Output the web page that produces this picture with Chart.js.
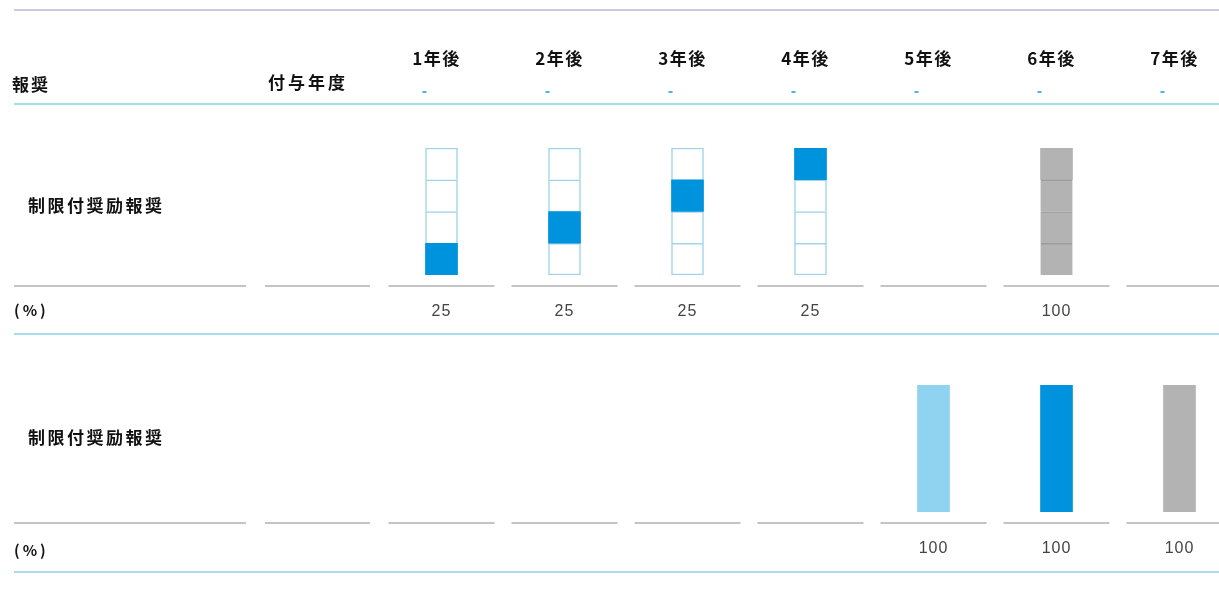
<!DOCTYPE html>
<html lang="ja">
<head>
<meta charset="utf-8">
<script src="https://cdn.jsdelivr.net/npm/chart.js"></script>
<style>
  html, body { margin: 0; padding: 0; background: #fff; overflow: hidden; }
  #wrap { position: relative; width: 1219px; height: 591px; overflow: hidden; }
  canvas { position: absolute; left: 0; }
  #topChart { top: 0; }
  #bottomChart { top: 335px; }
</style>
</head>
<body>
<div id="wrap">
  <canvas id="topChart" width="1241" height="335"></canvas>
  <canvas id="bottomChart" width="1241" height="256"></canvas>
</div>
<script>
const years = ['1年後', '2年後', '3年後', '4年後', '5年後', '6年後', '7年後'];
const headLeft = ['報奨', '付与年度'];
const planLabel = '制限付奨励報奨';
const unitLabel = '(%)';

// upper plan: 25% vests each year for four years, then a 100% award in year 6
const gradedPct = [25, 25, 25, 25, null, null, null];
const cliffPctTop = [null, null, null, null, null, 100, null];
// lower plan: full vesting in years 5 to 7
const cliffPctBottom = [null, null, null, null, 100, 100, 100];

const BLUE = '#0093dd';
const FRAME = '#9fd4e8';
const GREY = '#b3b3b3';
const bottomColors = [null, null, null, null, '#8fd3f1', BLUE, GREY];

const CJK = '"Noto Sans CJK JP", "Noto Sans CJK SC", sans-serif';
const NUM = '"Liberation Sans", Arial, sans-serif';

// tranche boundaries 0,25,50,75,100
const tranches = gradedPct.filter(v => v != null);
const bounds = [0];
tranches.forEach(v => bounds.push(bounds[bounds.length - 1] + v));

// the tranche that vests in each graded year
let run = 0;
const filledTop = gradedPct.map(v => {
  if (v == null) return null;
  const seg = [run, run + v];
  run += v;
  return seg;
});

const isCliff = i => cliffPctTop[i] != null;
const hasFrame = i => gradedPct[i] != null || isCliff(i);

const cellSets = tranches.map((_, k) => ({
  data: years.map((_, i) => hasFrame(i) ? [bounds[k], bounds[k + 1]] : null),
  backgroundColor: years.map((_, i) => isCliff(i) ? GREY : '#ffffff'),
  borderColor: years.map((_, i) => isCliff(i) ? '#9c9c9c' : FRAME),
  borderWidth: ctx => {
    if (isCliff(ctx.dataIndex)) {
      return { top: k < tranches.length - 1 ? 1.5 : 0, bottom: 0, left: 0, right: 0 };
    }
    return { top: 1.5, left: 1.5, right: 1.5, bottom: k === 0 ? 1.5 : 0 };
  }
}));

function hline(ctx, x1, x2, y, color, w) {
  ctx.strokeStyle = color;
  ctx.lineWidth = w;
  ctx.beginPath();
  ctx.moveTo(x1, y);
  ctx.lineTo(x2, y);
  ctx.stroke();
}

function text(ctx, str, x, y, font, color, align, spacing) {
  ctx.font = font;
  ctx.fillStyle = color;
  ctx.textAlign = align;
  ctx.textBaseline = 'middle';
  ctx.letterSpacing = spacing || '0px';
  ctx.fillText(str, x, y);
  ctx.letterSpacing = '0px';
}

// header, row labels, rules and percentage row around the bars
const tableRows = {
  id: 'tableRows',
  afterDraw(chart, args, o) {
    const ctx = chart.ctx;
    const xs = chart.scales.x;
    const right = chart.width;
    ctx.save();
    if (o.header) {
      hline(ctx, 14, right, 10, '#cbcbe0', 2);
      text(ctx, headLeft[0], 12, 85, 'bold 17px ' + CJK, '#111', 'left', '2px');
      text(ctx, headLeft[1], 268, 82.5, 'bold 17px ' + CJK, '#111', 'left', '3px');
      years.forEach((label, i) => {
        const cx = xs.getPixelForValue(i);
        text(ctx, label, cx - 5, 58.5, 'bold 17px ' + CJK, '#111', 'center', '1.5px');
        ctx.fillStyle = '#4fb3e0';
        ctx.fillRect(cx - 19, 91, 4, 2);
      });
      hline(ctx, 14, right, 104, '#a9dcec', 2);
    }
    text(ctx, planLabel, 28, o.labelY, 'bold 17px ' + CJK, '#111', 'left', '2.5px');

    hline(ctx, 14, 246, o.ruleY, '#c4c4c4', 2);
    hline(ctx, 265, 370, o.ruleY, '#c4c4c4', 2);
    years.forEach((_, i) => {
      const cx = xs.getPixelForValue(i);
      hline(ctx, cx - 53, cx + 53, o.ruleY, '#c4c4c4', 2);
    });

    text(ctx, unitLabel, 14, o.unitY, 'bold 15px ' + CJK, '#111', 'left', '3px');
    o.values.forEach((v, i) => {
      if (v == null) return;
      text(ctx, String(v), xs.getPixelForValue(i), o.valueY, '16px ' + NUM, '#444', 'center', '1px');
    });
    hline(ctx, 14, right, o.baseY, '#a9dcec', 2);
    ctx.restore();
  }
};

function options(padding, rows) {
  return {
    responsive: false,
    animation: false,
    events: [],
    layout: { padding: padding },
    datasets: { bar: { grouped: false, barThickness: 32, borderSkipped: false } },
    plugins: {
      legend: { display: false },
      tooltip: { enabled: false },
      tableRows: rows
    },
    scales: {
      x: { type: 'category', display: false, offset: true },
      y: { display: false, min: 0, max: 100 }
    }
  };
}

new Chart(document.getElementById('topChart'), {
  type: 'bar',
  data: {
    labels: years,
    datasets: [
      { data: filledTop, backgroundColor: BLUE, borderWidth: 0 },
      ...cellSets
    ]
  },
  options: options(
    { left: 380, right: 0, top: 148, bottom: 60 },
    {
      header: true, labelY: 206, ruleY: 286, unitY: 310, valueY: 311.5, baseY: 334,
      values: years.map((_, i) => gradedPct[i] != null ? gradedPct[i] : cliffPctTop[i])
    }
  ),
  plugins: [tableRows]
});

new Chart(document.getElementById('bottomChart'), {
  type: 'bar',
  data: {
    labels: years,
    datasets: [
      { data: cliffPctBottom, backgroundColor: bottomColors, borderWidth: 0 }
    ]
  },
  options: options(
    { left: 380, right: 0, top: 50, bottom: 79 },
    {
      header: false, labelY: 103, ruleY: 188, unitY: 215, valueY: 213.5, baseY: 237,
      values: cliffPctBottom
    }
  ),
  plugins: [tableRows]
});
</script>
</body>
</html>
